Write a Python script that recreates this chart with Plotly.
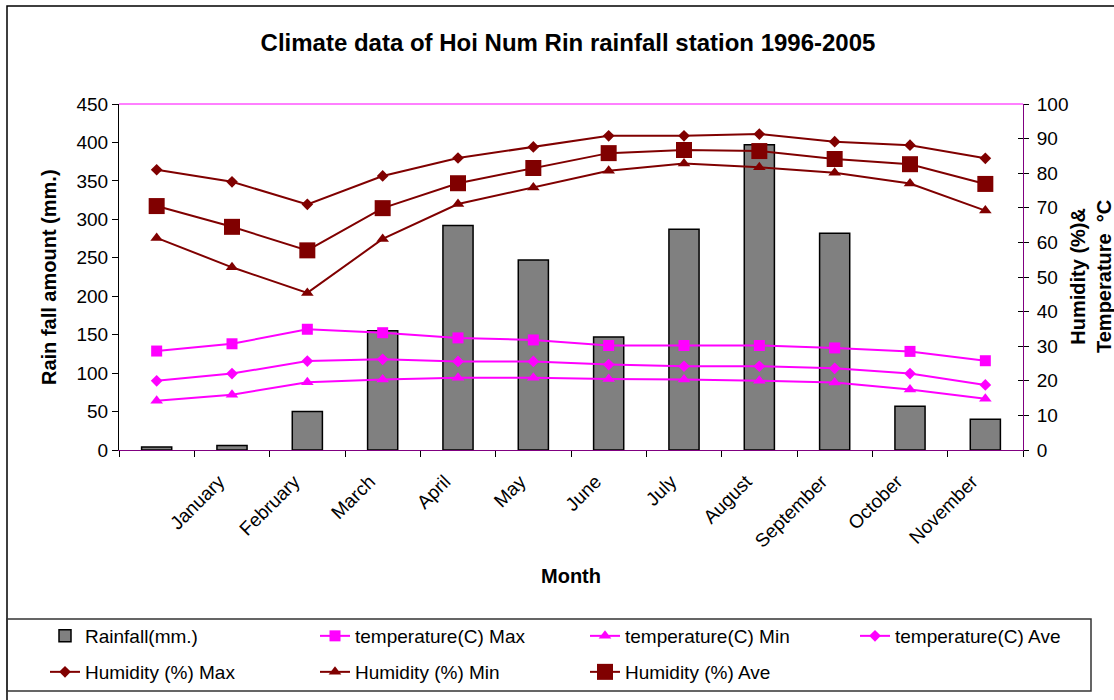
import plotly.graph_objects as go

# Monthly climate normals, Hoi Num Rin rainfall station (1996-2005)
months = ["", "January", "February", "March", "April", "May", "June",
          "July", "August", "September", "October", "November"]
rainfall = [4, 6, 50, 155, 292, 247, 147, 287, 397, 282, 57, 40]
temp_max = [28.6, 30.7, 34.9, 33.9, 32.4, 31.8, 30.2, 30.2, 30.2, 29.5, 28.5, 25.8]
temp_min = [14.2, 16.0, 19.6, 20.4, 20.9, 20.9, 20.5, 20.4, 20.0, 19.5, 17.5, 14.8]
temp_ave = [20.0, 22.1, 25.7, 26.2, 25.6, 25.6, 24.7, 24.2, 24.2, 23.6, 22.1, 18.8]
hum_max = [81.0, 77.5, 71.0, 79.2, 84.4, 87.6, 90.8, 90.8, 91.3, 89.1, 88.1, 84.3]
hum_min = [61.3, 52.8, 45.4, 61.0, 71.1, 75.9, 80.7, 82.8, 81.7, 80.1, 77.0, 69.2]
hum_ave = [70.5, 64.5, 57.7, 69.9, 77.1, 81.5, 85.8, 86.7, 86.4, 84.1, 82.6, 76.9]

x = list(range(len(months)))

FONT = "Liberation Sans, Arial, sans-serif"
MAGENTA = "#FF00FF"
MAROON = "#800000"
PURPLE = "#800080"
ENTRY_W = 225   # legend column pitch minus symbol/gap
LAST_W = 172    # last column of a legend row

fig = go.Figure()

fig.add_trace(go.Bar(
    x=x, y=rainfall, name="Rainfall(mm.)", width=0.4,
    marker=dict(color="#808080", line=dict(color="black", width=1.5)),
    yaxis="y", legend="legend", legendwidth=ENTRY_W,
))


def line_trace(vals, name, color, symbol, size, legend, lw=ENTRY_W):
    return go.Scatter(
        x=x, y=vals, name=name, mode="lines+markers", yaxis="y2",
        line=dict(color=color, width=2),
        marker=dict(symbol=symbol, size=size, color=color),
        legend=legend, legendwidth=lw,
    )


fig.add_trace(line_trace(temp_max, "temperature(C) Max", MAGENTA, "square", 11, "legend"))
fig.add_trace(line_trace(temp_min, "temperature(C) Min", MAGENTA, "triangle-up", 11, "legend"))
fig.add_trace(line_trace(temp_ave, "temperature(C) Ave", MAGENTA, "diamond", 9, "legend", LAST_W))
fig.add_trace(line_trace(hum_max, "Humidity (%) Max", MAROON, "diamond", 9, "legend2"))
fig.add_trace(line_trace(hum_min, "Humidity (%) Min", MAROON, "triangle-up", 11, "legend2"))
fig.add_trace(line_trace(hum_ave, "Humidity (%) Ave", MAROON, "square", 16, "legend2", LAST_W))

L, R, T, B = 119, 91, 104, 250
W, H = 1114, 700
PW, PH = W - L - R, H - T - B


def px_x(p):
    return (p - L) / PW


def px_y(p):
    return (H - B - p) / PH


legend_common = dict(
    orientation="h", xanchor="left", yanchor="middle",
    font=dict(family=FONT, size=19, color="black"),
    bgcolor="rgba(0,0,0,0)", borderwidth=0, traceorder="normal",
)

fig.update_layout(
    width=W, height=H,
    margin=dict(l=L, r=R, t=T, b=B, autoexpand=False),
    paper_bgcolor="white", plot_bgcolor="white",
    font=dict(family=FONT, size=19, color="black"),
    showlegend=True,
    xaxis=dict(
        range=[-0.5, 11.5], tickmode="array", tickvals=x, ticktext=months,
        tickangle=-45, ticks="", showgrid=False, zeroline=False,
        showline=True, linecolor=PURPLE, linewidth=1, automargin=False,
        tickfont=dict(size=19), ticklabelstandoff=12, ticklabelshift=-13,
        minor=dict(tickmode="linear", tick0=-0.5, dtick=1, ticks="outside",
                   ticklen=6, tickcolor="black", showgrid=False),
    ),
    yaxis=dict(
        range=[0, 450], dtick=50, ticks="outside", ticklen=6, tickcolor="black",
        showline=True, linecolor="black", linewidth=1, showgrid=False,
        zeroline=False, tickfont=dict(size=19), automargin=False,
    ),
    yaxis2=dict(
        range=[0, 100], dtick=10, overlaying="y", side="right", anchor="x",
        ticks="outside", ticklen=5, tickcolor="black",
        showline=True, linecolor=PURPLE, linewidth=1, showgrid=False,
        zeroline=False, tickfont=dict(size=19), ticklabelstandoff=4,
        automargin=False,
    ),
    yaxis3=dict(
        range=[0, 100], dtick=10, overlaying="y", side="right", anchor="x",
        ticks="inside", ticklen=5, tickcolor="black", showticklabels=False,
        showline=False, showgrid=False, zeroline=False, automargin=False,
    ),
    legend=dict(x=px_x(45), y=px_y(636), **legend_common),
    legend2=dict(x=px_x(45), y=px_y(672), **legend_common),
    title=dict(
        text="<b>Climate data of Hoi Num Rin rainfall station 1996-2005</b>",
        font=dict(family=FONT, size=24, color="black"),
        x=px_x(568), xref="paper", xanchor="center",
        y=1 - 43 / H, yref="container", yanchor="middle",
    ),
)

# invisible trace to activate the inner tick marks of the right axis
fig.add_trace(go.Scatter(x=[None], y=[None], yaxis="y3", showlegend=False,
                         hoverinfo="skip"))

annotations = [
    dict(text="<b>Rain fall amount (mm.)</b>", x=px_x(49), y=0.5,
         xref="paper", yref="paper", xanchor="center", yanchor="middle",
         textangle=-90, showarrow=False,
         font=dict(family=FONT, size=20, color="black")),
    dict(text="<b>Humidity (%)&<br>Temperature\u00a0\u00a0°C</b>", x=px_x(1091), y=0.5,
         xref="paper", yref="paper", xanchor="center", yanchor="middle",
         textangle=-90, showarrow=False,
         font=dict(family=FONT, size=20, color="black")),
    dict(text="<b>Month</b>", x=px_x(571), y=px_y(576),
         xref="paper", yref="paper", xanchor="center", yanchor="middle",
         showarrow=False,
         font=dict(family=FONT, size=20, color="black")),
]
fig.update_layout(annotations=annotations)

shapes = [
    # top border of the plot area
    dict(type="line", xref="paper", yref="paper", x0=0, x1=1, y0=1, y1=1,
         line=dict(color=MAGENTA, width=1)),
    # outer chart frame
    dict(type="rect", xref="paper", yref="paper",
         x0=px_x(7), x1=px_x(1200), y0=px_y(760), y1=px_y(6),
         line=dict(color="black", width=1.5)),
    # legend frame
    dict(type="rect", xref="paper", yref="paper",
         x0=px_x(7), x1=px_x(1091), y0=px_y(691), y1=px_y(619),
         line=dict(color="#333333", width=1.5)),
]
fig.update_layout(shapes=shapes)

fig.write_html("out.html")
